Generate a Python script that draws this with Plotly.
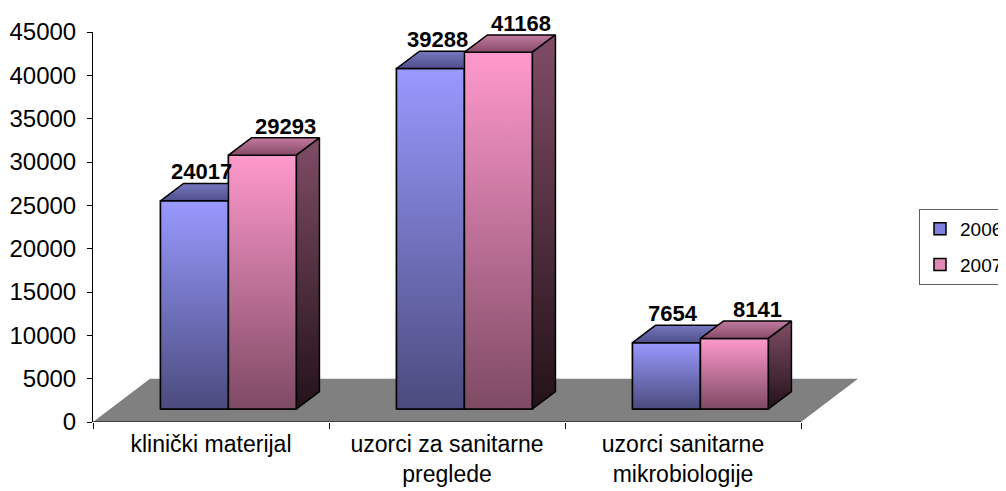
import plotly.graph_objects as go

# ---- data ----
categories = ["klinički materijal", "uzorci za sanitarne<br>preglede", "uzorci sanitarne<br>mikrobiologije"]
years = ["2006", "2007"]
values_2006 = [24017, 39288, 7654]
values_2007 = [29293, 41168, 8141]
y_ticks = [0, 5000, 10000, 15000, 20000, 25000, 30000, 35000, 40000, 45000]

# ---- styling / pseudo-3D geometry (axis units) ----
BAR_W = 0.288
OFF_DX, OFF_DY = 0.074, 1500        # bars sit slightly back on the floor
DEP_DX, DEP_DY = 0.0975, 2000       # depth of each bar
FLOOR_DX, FLOOR_DY = 0.2415, 5000   # depth of floor
FONT = "Liberation Sans, Arial, sans-serif"
PAGE = 8  # body margin of the html page

styles = {
    "2006": dict(front=["#4b4b7e", "#9999ff"], top=["#4f4f8c", "#7777bf"], side=["#1a1a30", "#4d4d80"],
                 legend="#8080dd"),
    "2007": dict(front=["#7e4a64", "#ff99cc"], top=["#874a69", "#c27b9e"], side=["#241219", "#7f4d66"],
                 legend="#e088b4"),
}
series = {"2006": values_2006, "2007": values_2007}

fig = go.Figure()

# legend carriers / base bars (covered by the gradient faces)
for i, yr in enumerate(years):
    fig.add_trace(go.Bar(
        x=list(range(len(categories))), y=series[yr], base=OFF_DY,
        width=BAR_W, offset=(i - 1) * BAR_W + OFF_DX,
        marker=dict(color=styles[yr]["legend"], line=dict(color="black", width=1.5)),
        name=yr, legendgroup=yr, hoverinfo="skip",
    ))

def face(xs, ys, cols):
    fig.add_trace(go.Scatter(
        x=xs + [xs[0]], y=ys + [ys[0]], mode="lines", fill="toself",
        fillgradient=dict(type="vertical", colorscale=[[0, cols[0]], [1, cols[1]]]),
        line=dict(color="black", width=1.5), showlegend=False, hoverinfo="skip",
    ))

for j in range(len(categories)):
    for i, yr in enumerate(years):
        v = series[yr][j]
        x0 = j + (i - 1) * BAR_W + OFF_DX
        x1 = x0 + BAR_W
        yb, yt = OFF_DY, v + OFF_DY
        st = styles[yr]
        face([x0, x1, x1, x0], [yb, yb, yt, yt], st["front"])
        face([x0, x1, x1 + DEP_DX, x0 + DEP_DX], [yt, yt, yt + DEP_DY, yt + DEP_DY], st["top"])
        face([x1, x1 + DEP_DX, x1 + DEP_DX, x1], [yb, yb + DEP_DY, yt + DEP_DY, yt], st["side"])
        fig.add_annotation(
            x=(x0 + x1) / 2, y=yt, text=f"<b>{v}</b>", showarrow=False,
            xshift=7 if i == 0 else 23, yshift=29, yanchor="middle",
            font=dict(family=FONT, size=22, color="black"),
        )

# floor
fig.add_shape(
    type="path", xref="x", yref="y", layer="below",
    path=(f"M{-0.5},{0} L{2.5},{0} L{2.5 + FLOOR_DX},{FLOOR_DY} "
          f"L{-0.5 + FLOOR_DX},{FLOOR_DY} Z"),
    fillcolor="#808080", line=dict(width=0),
)
# category axis line along floor front edge
fig.add_shape(type="line", xref="x", yref="y", x0=-0.5, x1=2.5, y0=0, y1=0,
              line=dict(color="black", width=1))

L, R, T, B = 93 - PAGE, 1006 - (860 - PAGE), 32 - PAGE, 491 - (422 - PAGE)
fig.update_layout(
    width=1006, height=491, template="none",
    paper_bgcolor="white", plot_bgcolor="white",
    margin=dict(l=L, r=R, t=T, b=B, autoexpand=False),
    barmode="overlay", showlegend=True,
    legend=dict(x=(919 - 93) / 767, y=(422 - 209) / 390, xanchor="left", yanchor="top",
                bordercolor="#606060", borderwidth=1, bgcolor="white",
                font=dict(family=FONT, size=19, color="black"),
                traceorder="grouped", tracegroupgap=8, itemwidth=30),
    font=dict(family=FONT, color="black"),
)
fig.update_xaxes(
    range=[-0.5, 2.75], tickmode="array", tickvals=[0, 1, 2], ticktext=categories,
    ticks="", showline=False, showgrid=False, zeroline=False, automargin=False,
    tickfont=dict(family=FONT, size=23, color="black"), ticklabelstandoff=6,
    minor=dict(tickmode="array", tickvals=[-0.5, 0.5, 1.5, 2.5], ticks="outside",
               ticklen=6, tickcolor="black", showgrid=False),
)
fig.update_yaxes(
    range=[0, 45000], tickmode="array", tickvals=y_ticks, ticktext=[str(t) for t in y_ticks],
    ticks="outside", ticklen=5, tickcolor="black", showline=True, linecolor="black", linewidth=1,
    showgrid=False, zeroline=False, automargin=False, ticklabelstandoff=6,
    tickfont=dict(family=FONT, size=24, color="black"),
)

fig.write_html("out.html")
